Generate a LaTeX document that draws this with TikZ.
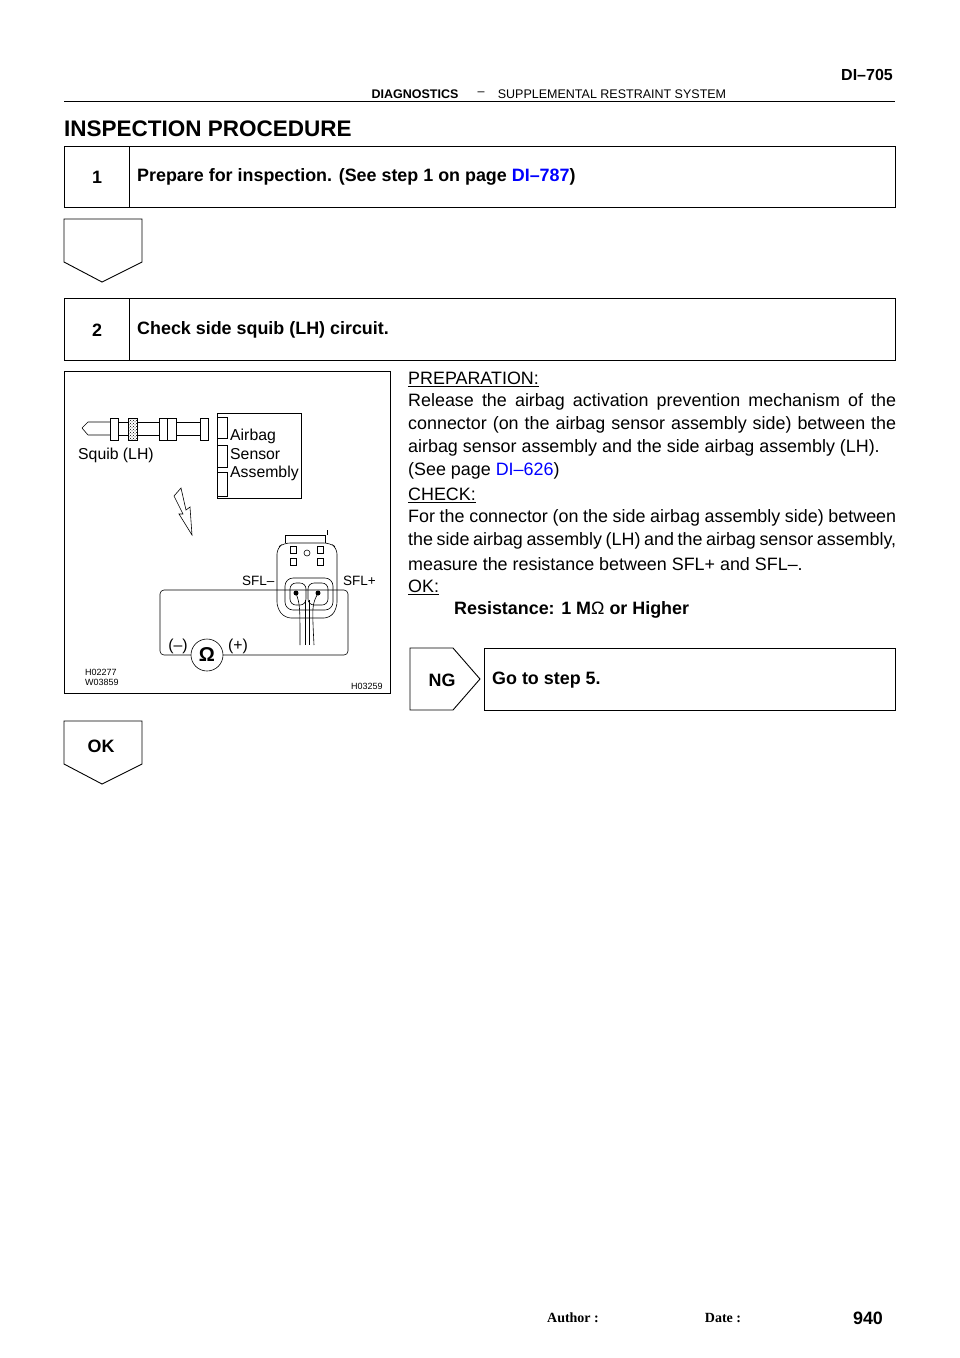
\documentclass[tikz,border=0pt]{standalone}
\usepackage{fontspec}
\setmainfont{Liberation Sans}
\usetikzlibrary{patterns}
\begin{document}
\begin{tikzpicture}[x=1pt,y=-1pt,
  body/.style={font=\fontsize{17.9}{20}\selectfont,inner sep=0,anchor=west},
  bbody/.style={font=\fontsize{17.9}{20}\selectfont\bfseries,inner sep=0,anchor=west},
  fig/.style={font=\fontsize{15.8}{17}\selectfont,inner sep=0,anchor=west},
  small/.style={font=\fontsize{9}{10}\selectfont,inner sep=0,anchor=west},
  ln/.style={line width=0.9pt},
  fl/.style={line width=0.6pt}]
\useasboundingbox (0,0) rectangle (960,1358);
% header
\node[bbody,font=\fontsize{16}{18}\selectfont\bfseries,anchor=east] (pg) at (893,75) {DI–705};
\draw[ln] (64,101) -- (895,101);
\node[font=\fontsize{12.5}{14}\selectfont\bfseries,inner sep=0] (h1) at (415,94) {DIAGNOSTICS};
\node[font=\fontsize{12.5}{14}\selectfont,inner sep=0] (h2) at (481,94) {–};
\node[font=\fontsize{12.5}{14}\selectfont,inner sep=0] (h3) at (612,94) {SUPPLEMENTAL RESTRAINT SYSTEM};
\node[font=\fontsize{22.5}{24}\selectfont\bfseries,inner sep=0,anchor=west] (title) at (64,129) {INSPECTION PROCEDURE};
% box 1
\draw[ln] (64,146) rectangle (895,207) (129,146) -- (129,207);
\node[bbody,anchor=center] (n1) at (97,177) {1};
\node[bbody] (t1) at (137,177) {Prepare for inspection. (See step 1 on page \textcolor{blue}{DI–787})};
\draw[ln] (64,219) -- (142,219) -- (142,262) -- (102,282) -- (64,262) -- cycle;
% box 2
\draw[ln] (64,298) rectangle (895,360) (129,298) -- (129,360);
\node[bbody,anchor=center] (n2) at (97,330) {2};
\node[bbody] (t2) at (137,330) {Check side squib (LH) circuit.};
% figure
\draw[ln] (64,371) rectangle (390,693);
% squib
\draw[fl] (82,428) -- (88,422) -- (110,422) (88,435) -- (110,435) (82,428) -- (88,435);
\draw[fl] (110,418) rectangle (118,440);
\draw[fl,pattern=crosshatch dots] (128,418) rectangle (137,440);
\draw[fl] (118,422) -- (128,422) (118,435) -- (128,435);
\draw[fl] (137,422) -- (159,422) (137,435) -- (159,435);
\draw[fl] (159,418) rectangle (176,440) (167,418) -- (167,440);
\draw[fl] (176,422) -- (200,422) (176,435) -- (200,435);
\draw[fl] (200,418) rectangle (208,440);
\draw[fl] (217,413) rectangle (301,498);
\draw[fl] (217,417) rectangle (227,438) (217,445) rectangle (227,467) (217,472) rectangle (227,496);
\node[fig] (sq) at (78,455) {Squib (LH)};
\node[fig] (as1) at (230,436) {Airbag};
\node[fig] (as2) at (230,454) {Sensor};
\node[fig] (as3) at (230,473) {Assembly};
% hollow arrow
\draw[fl] (174,496) -- (181,488) -- (186,510) -- (190,507) -- (192,535) -- (179,514) -- (183,514) -- cycle;
% meter loop
\draw[fl,rounded corners=4] (160,590) rectangle (348,655);
\draw[fl,fill=white] (207,655) circle (16);
\node[font=\fontsize{20}{20}\selectfont\bfseries,inner sep=0] (om) at (207,655) {Ω};
\node[fig,anchor=center] (mm) at (178,646) {(–)};
\node[fig,anchor=center] (mp) at (238,646) {(+)};
% connector
\draw[fl,rounded corners=6] (277,548) -- (277,608) -- (285,618) -- (330,618) -- (337,608) -- (337,548) -- (330,543) -- (284,543) -- cycle;
\draw[fl] (285,543) -- (285,535) -- (325,535) -- (325,543) (327,535) -- (327,530);
\draw[fl] (290,546) rectangle (296,553) (317,546) rectangle (323,553) (290,558) rectangle (296,565) (317,558) rectangle (323,565);
\draw[fl] (307,553) circle (3);
\draw[fl,rounded corners=8] (285,578) rectangle (333,610);
\draw[fl,rounded corners=6] (290,583) rectangle (306,605) (308,583) rectangle (328,605);
\fill (296,593) circle (2.5) (318,593) circle (2.5);
\draw[fl] (296,593) .. controls (300,605) .. (300,645) (318,593) .. controls (312,605) .. (314,645);
\draw[fl] (305,600) -- (305,645) (309,600) -- (309,645);
\node[fig,font=\fontsize{13.5}{15}\selectfont] (sm) at (242,581) {SFL–};
\node[fig,font=\fontsize{13.5}{15}\selectfont] (sp) at (343,581) {SFL+};
\node[small] (c1) at (85,672) {H02277};
\node[small] (c2) at (85,682) {W03859};
\node[small] (c3) at (351,686) {H03259};
% text
\node[body] (p0) at (408,379) {\underline{PREPARATION:}};
\node[body] (p1) at (408,402) {\makebox[488pt][s]{Release the airbag activation prevention mechanism of the}};
\node[body] (p2) at (408,425) {\makebox[488pt][s]{connector (on the airbag sensor assembly side) between the}};
\node[body] (p3) at (408,448) {airbag sensor assembly and the side airbag assembly (LH).};
\node[body] (p4) at (408,471) {(See page \textcolor{blue}{DI–626})};
\node[body] (p5) at (408,495) {\underline{CHECK:}};
\node[body] (p6) at (408,518) {\makebox[488pt][s]{For the connector (on the side airbag assembly side) between}};
\node[body] (p7) at (408,541) {\makebox[488pt][s]{the side airbag assembly (LH) and the airbag sensor assembly,}};
\node[body] (p8) at (408,564) {measure the resistance between SFL+ and SFL–.};
\node[body] (p9) at (408,587) {\underline{OK:}};
\node[bbody] (p10) at (454,610) {Resistance: 1 M{\mdseries Ω} or Higher};
% NG
\draw[ln] (410,648) -- (453,648) -- (480,679) -- (453,710) -- (410,710) -- cycle;
\draw[ln] (484,648) rectangle (895,710);
\node[bbody,anchor=center] (ng) at (442,680) {NG};
\node[bbody] (g5) at (492,680) {Go to step 5.};
% OK
\draw[ln] (64,721) -- (142,721) -- (142,764) -- (102,784) -- (64,764) -- cycle;
\node[bbody,anchor=center] (ok) at (101,746) {OK};
% footer
\node[font=\fontsize{14}{16}\selectfont\bfseries,inner sep=0] (au) at (573,1318) {\fontspec{Liberation Serif}Author :};
\node[font=\fontsize{14}{16}\selectfont\bfseries,inner sep=0] (da) at (723,1318) {\fontspec{Liberation Serif}Date :};
\node[bbody,anchor=center] (pn) at (868,1318) {940};
\end{tikzpicture}
\end{document}
